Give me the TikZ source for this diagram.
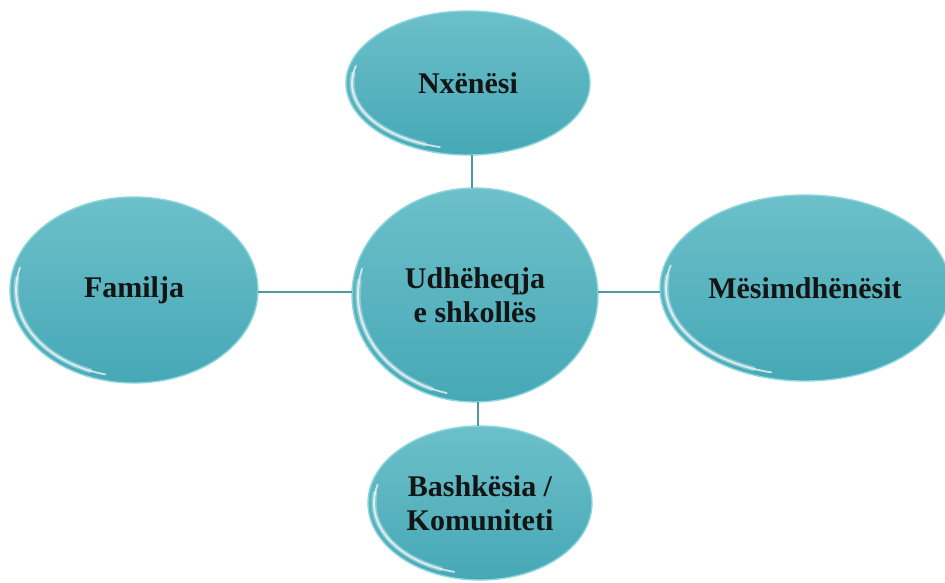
\documentclass[tikz,border=0pt]{standalone}
\usepackage{fontspec}
\setmainfont{Liberation Serif}
\usetikzlibrary{shapes.geometric}

\definecolor{bubtop}{RGB}{108,192,201}
\definecolor{bubbot}{RGB}{70,168,182}
\definecolor{bubrim}{RGB}{140,214,222}
\definecolor{linkcol}{RGB}{78,152,164}

% shaded bubble: name, x, y, x radius, y radius, text
\newcommand\mybubble[6]{%
  \pgfmathsetmacro\hrx{#4-6}\pgfmathsetmacro\hry{#5-6}%
  \shade[top color=bubtop, bottom color=bubbot, draw=bubrim, line width=1.4pt]
    (#2,#3) ellipse [x radius=#4pt, y radius=#5pt];
  \draw[white, opacity=.35, line width=5pt, line cap=round]
    (#2,#3) ++(172:\hrx pt and \hry pt)
    arc[start angle=172, end angle=248, x radius=\hrx pt, y radius=\hry pt];
  \draw[white, opacity=.7, line width=1.8pt, line cap=round]
    (#2,#3) ++(165:\hrx pt and \hry pt)
    arc[start angle=165, end angle=256, x radius=\hrx pt, y radius=\hry pt];
  \node[bubtext, minimum width=2*#4pt, minimum height=2*#5pt] (#1) at (#2,#3) {#6};
}

\tikzset{
  bubtext/.style={ellipse, inner sep=0pt, align=center,
    font=\fontsize{30}{34}\selectfont\bfseries, text=black!92},
  link/.style={draw=linkcol, line width=2pt}
}

\begin{document}
\begin{tikzpicture}[x=1pt, y=1pt]
  \useasboundingbox (0,0) rectangle (945,582);
  \fill[white] (0,0) rectangle (945,582);

  \mybubble{nx}{468}{499}{122}{72}{Nxënësi}
  \mybubble{ud}{475}{287}{123}{107}{Udhëheqja\\e shkollës}
  \mybubble{fam}{134}{292}{124}{93}{Familja}
  \mybubble{mes}{805}{294}{145}{93}{Mësimdhënësit}
  \mybubble{bash}{480}{79}{112}{77}{Bashkësia /\\Komuniteti}

  % connector guides
  \coordinate (vtop) at (472,0);
  \coordinate (vbot) at (478,0);
  \coordinate (hmid) at (0,290);

  \draw[link] (nx.south -| vtop) -- (ud.north -| vtop);
  \draw[link] (ud.south -| vbot) -- (bash.north -| vbot);
  \draw[link] (fam.east |- hmid) -- (ud.west |- hmid);
  \draw[link] (ud.east |- hmid) -- (mes.west |- hmid);
\end{tikzpicture}
\end{document}
